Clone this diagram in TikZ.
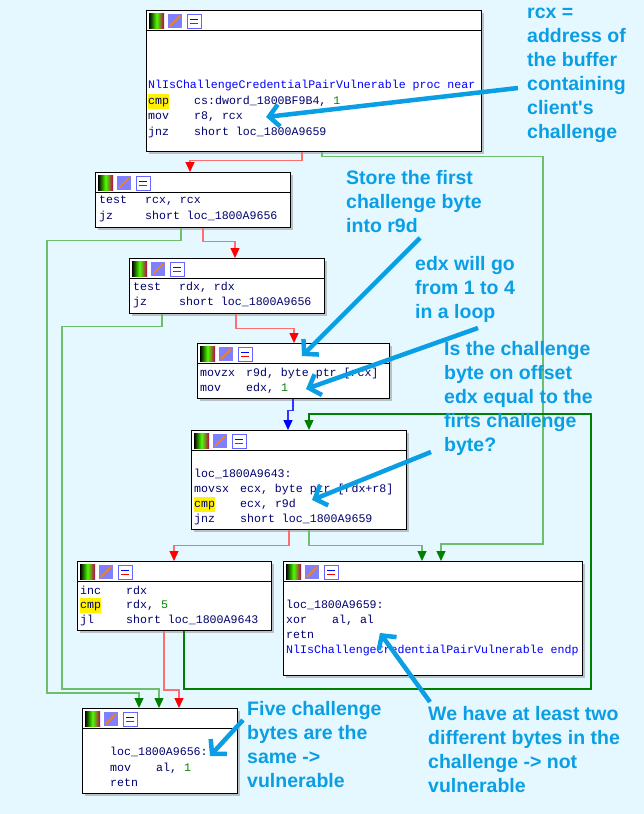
\documentclass[tikz,border=0pt]{standalone}
\usepackage{fontspec}
\setmainfont{Liberation Sans}
\newfontfamily\idafont{Liberation Mono}
\usetikzlibrary{arrows.meta,calc,shadows}
\definecolor{bgcyan}{RGB}{230,248,255}
\definecolor{notecol}{RGB}{10,158,228}
\definecolor{redge}{RGB}{255,110,110}
\definecolor{gedge}{RGB}{110,190,110}
\definecolor{loopg}{RGB}{0,128,0}
\definecolor{mnem}{RGB}{0,0,110}
\definecolor{procblue}{RGB}{0,0,255}
\definecolor{numg}{RGB}{0,128,0}
\setlength\fboxsep{0pt}
\tikzset{
  blk/.style={draw,thick,fill=white,anchor=north west,inner sep=0pt,
    drop shadow={shadow xshift=3pt,shadow yshift=-3pt,fill=black!45}},
  asm/.style={anchor=west,inner sep=0pt,font=\idafont\fontsize{11.6}{15}\selectfont,text=mnem},
  note/.style={anchor=north west,align=left,inner sep=0pt,text=notecol,
    font=\bfseries\fontsize{19.5}{24}\selectfont},
  callout/.style={draw=notecol,line width=4.5pt,-{Straight Barb[length=10pt,width=22pt,line width=4.5pt]}},
  redarr/.style={draw=redge,line width=1.3pt,-{Triangle[width=9pt,length=10pt,fill=red,color=red]}},
  greenarr/.style={draw=gedge,line width=1.3pt,-{Triangle[width=9pt,length=10pt,color=loopg]}},
  looparr/.style={draw=loopg,line width=1.3pt,-{Triangle[width=9pt,length=10pt,color=loopg]}},
  bluearr/.style={draw=procblue!80,line width=1.3pt,-{Triangle[width=9pt,length=10pt,color=blue]}},
}
% one code line: mnemonic, operands
\newcommand\ins[2]{\makebox[46pt][l]{#1}#2}
\newcommand\hl[1]{\colorbox{yellow}{\strut#1}}
% header bar with the three icons
\newcommand\idahead[1]{
  \draw ([yshift=-20pt]#1.north west) -- ([yshift=-20pt]#1.north east);
  \shade[left color=black,right color=red!70!blue,middle color=green!70!yellow]
    ([shift={(3,3)}]#1.north west) rectangle ++(15,15);
  \fill[blue!50] ([shift={(22,4)}]#1.north west) rectangle ++(14,14);
  \draw[orange,line width=1.5pt] ([shift={(24,16)}]#1.north west) -- ++(10,-10);
  \draw[blue!60,fill=white] ([shift={(41,4)}]#1.north west) rectangle ++(14,14);
  \draw[red] ([shift={(44,13)}]#1.north west) -- ++(8,0);
  \draw[blue] ([shift={(44,9)}]#1.north west) -- ++(8,0);
}
\begin{document}
\begin{tikzpicture}[x=1pt,y=-1pt]
\fill[bgcyan] (0,0) rectangle (644,814);
\useasboundingbox (0,0) rectangle (644,814);

% blocks
\node[blk,minimum width=335pt,minimum height=141pt] (b1) at (146,10) {};
\node[blk,minimum width=195pt,minimum height=55pt] (b2) at (95,172) {};
\node[blk,minimum width=195pt,minimum height=55pt] (b3) at (129,258) {};
\node[blk,minimum width=192pt,minimum height=55pt] (b4) at (197,343) {};
\node[blk,minimum width=215pt,minimum height=99pt] (b5) at (191,430) {};
\node[blk,minimum width=194pt,minimum height=69pt] (b6) at (77,561) {};
\node[blk,minimum width=299pt,minimum height=114pt] (b7) at (283,561) {};
\node[blk,minimum width=155pt,minimum height=85pt] (b8) at (82,708) {};
\foreach \b in {b1,b2,b3,b4,b5,b6,b7,b8} {\idahead{\b}}

% code
\node[asm,text=procblue] (t1a) at (148,85) {NlIsChallengeCredentialPairVulnerable proc near};
\node[asm] (t1b) at (148,101) {\ins{\hl{cmp}}{cs:dword\_1800BF9B4, \textcolor{numg}{1}}};
\node[asm] (t1c) at (148,117) {\ins{mov}{r8, rcx}};
\node[asm] (t1d) at (148,132) {\ins{jnz}{short loc\_1800A9659}};
\node[asm] (t2a) at (99,201) {\ins{test}{rcx, rcx}};
\node[asm] (t2b) at (99,216) {\ins{jz}{short loc\_1800A9656}};
\node[asm] (t3a) at (133,287) {\ins{test}{rdx, rdx}};
\node[asm] (t3b) at (133,302) {\ins{jz}{short loc\_1800A9656}};
\node[asm] (t4a) at (200,373) {\ins{movzx}{r9d, byte ptr [rcx]}};
\node[asm] (t4b) at (200,388) {\ins{mov}{edx, \textcolor{numg}{1}}};
\node[asm] (t5a) at (194,474) {loc\_1800A9643:};
\node[asm] (t5b) at (194,489) {\ins{movsx}{ecx, byte ptr [rdx+r8]}};
\node[asm] (t5c) at (194,504) {\ins{\hl{cmp}}{ecx, r9d}};
\node[asm] (t5d) at (194,519) {\ins{jnz}{short loc\_1800A9659}};
\node[asm] (t6a) at (80,590) {\ins{inc}{rdx}};
\node[asm] (t6b) at (80,605) {\ins{\hl{cmp}}{rdx, \textcolor{numg}{5}}};
\node[asm] (t6c) at (80,620) {\ins{jl}{short loc\_1800A9643}};
\node[asm] (t7a) at (286,605) {loc\_1800A9659:};
\node[asm] (t7b) at (286,620) {\ins{xor}{al, al}};
\node[asm] (t7c) at (286,635) {retn};
\node[asm,text=procblue] (t7d) at (286,650) {NlIsChallengeCredentialPairVulnerable endp};
\node[asm] (t8a) at (110,752) {loc\_1800A9656:};
\node[asm] (t8b) at (110,768) {\ins{mov}{al, \textcolor{numg}{1}}};
\node[asm] (t8c) at (110,783) {retn};

% edges
\draw[redarr] ([xshift=156pt]b1.south west) -- ++(0,9) -| ([xshift=95pt]b2.north west);
\draw[greenarr] ([xshift=176pt]b1.south west) -- ++(0,5) -| (543,544) -| ([xshift=158pt]b7.north west);
\draw[redarr] ([xshift=108pt]b2.south west) -- ++(0,14) -| ([xshift=106pt]b3.north west);
\draw[greenarr] ([xshift=86pt]b2.south west) -- ++(0,13) -| (47,693) -| ([xshift=57pt]b8.north west);
\draw[redarr] ([xshift=107pt]b3.south west) -- ++(0,15) -| ([xshift=97pt]b4.north west);
\draw[greenarr] ([xshift=33pt]b3.south west) -- ++(0,13) -| (62,689) -| ([xshift=77pt]b8.north west);
\draw[bluearr] ([xshift=96pt]b4.south west) -- ++(0,12) -| ([xshift=97pt]b5.north west);
\draw[looparr] ([xshift=107pt]b6.south west) |- (591,689) |- (309,414) -- ([xshift=118pt]b5.north west);
\draw[redarr] ([xshift=98pt]b5.south west) -- ++(0,16) -| ([xshift=97pt]b6.north west);
\draw[greenarr] ([xshift=118pt]b5.south west) -- ++(0,16) -| ([xshift=139pt]b7.north west);
\draw[redarr] ([xshift=87pt]b6.south west) |- (179,690) -- ([xshift=97pt]b8.north west);

% notes
\node[note] (n1) at (527,8) {rcx =\\address of\\the buffer\\containing\\client\textquotesingle s\\challenge};
\node[note] (n2) at (346,170) {Store the first\\challenge byte\\into r9d};
\node[note] (n3) at (415,256) {edx will go\\from 1 to 4\\in a loop};
\node[note] (n4) at (444,341) {Is the challenge\\byte on offset\\edx equal to the\\firts challenge\\byte?};
\node[note] (n5) at (247,701) {Five challenge\\bytes are the\\same ->\\vulnerable};
\node[note] (n6) at (428,706) {We have at least two\\different bytes in the\\challenge -> not\\vulnerable};
\draw[callout] (518,88) -- (266,117);
\draw[callout] (420,238) -- (302,356);
\draw[callout] (478,328) -- (306,389);
\draw[callout] (431,452) -- (312,500);
\draw[callout] (243,720) -- (210,756);
\draw[callout] (430,702) -- (380,633);
\end{tikzpicture}
\end{document}
